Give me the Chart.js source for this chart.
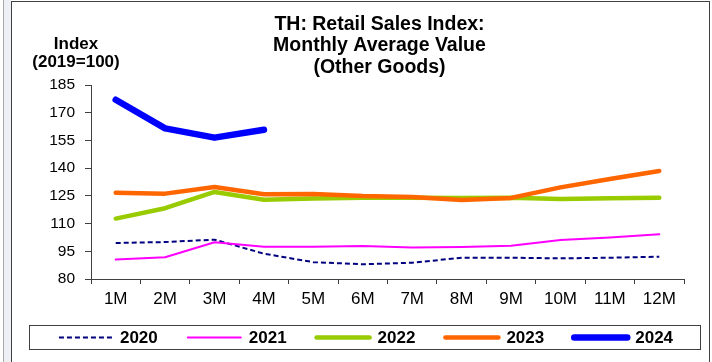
<!DOCTYPE html>
<html>
<head>
<meta charset="utf-8">
<title>TH: Retail Sales Index</title>
<script src="https://cdn.jsdelivr.net/npm/chart.js@4"></script>
<style>
  html, body { margin: 0; padding: 0; background: #fff; }
  #wrap { position: relative; width: 712px; height: 362px; overflow: hidden; }
  /* window frame around the chart */
  .edge-outer { position: absolute; left: 3px; top: 0; width: 1px; height: 362px; background: #a8a8a8; }
  .edge-band { position: absolute; left: 4px; top: 0; width: 7px; height: 362px; background: #eef0f6; }
  .edge-frame { position: absolute; left: 11px; top: 1px; width: 697px; height: 370px; border: 1px solid #404040; border-bottom: none; }
  canvas { position: absolute; left: 0; top: 0; }
</style>
</head>
<body>
<div id="wrap">
  <div class="edge-outer"></div>
  <div class="edge-band"></div>
  <div class="edge-frame"></div>
  <canvas id="retailChart" width="712" height="362"></canvas>
</div>
<script>
// Monthly average value, other goods (index, 2019 = 100)
const months = ['1M', '2M', '3M', '4M', '5M', '6M', '7M', '8M', '9M', '10M', '11M', '12M'];
const y2020 = [99.5, 100.0, 101.3, 93.7, 89.1, 88.0, 88.8, 91.5, 91.5, 91.2, 91.5, 92.1];
const y2021 = [90.5, 91.8, 99.9, 97.5, 97.5, 97.9, 97.0, 97.3, 98.0, 101.1, 102.4, 104.2];
const y2022 = [112.7, 118.3, 127.1, 122.9, 123.6, 124.0, 124.0, 123.9, 124.0, 123.3, 123.7, 124.0];
const y2023 = [126.7, 126.2, 129.8, 125.9, 126.0, 124.9, 124.4, 122.8, 123.9, 129.6, 134.1, 138.5];
const y2024 = [177.0, 161.5, 156.5, 160.8];
const yTicks = [80, 95, 110, 125, 140, 155, 170, 185];

const titleLines = ['TH: Retail Sales Index:', 'Monthly Average Value', '(Other Goods)'];
const unitLines = ['Index', '(2019=100)'];

const FONT = '"Liberation Sans", Arial, sans-serif';

// Title and the unit caption over the y axis
const headerText = {
    id: 'headerText',
    afterDraw(chart) {
        const {ctx, chartArea} = chart;
        ctx.save();
        ctx.fillStyle = '#000';
        ctx.textAlign = 'center';
        ctx.textBaseline = 'alphabetic';
        ctx.font = 'bold 19.5px ' + FONT;
        const cx = (chartArea.left + chartArea.right) / 2 - 8;
        titleLines.forEach((t, i) => ctx.fillText(t, cx, 30 + i * 21.3));
        ctx.font = 'bold 17px ' + FONT;
        unitLines.forEach((t, i) => ctx.fillText(t, chartArea.left - 15, chartArea.top - 36 + i * 18.2));
        ctx.restore();
    }
};

// Boxed legend row under the x axis
const boxedLegend = {
    id: 'boxedLegend',
    afterDraw(chart) {
        const {ctx, chartArea} = chart;
        const sets = chart.data.datasets;
        const lineLen = 53, gap = 8, pad = 30;
        ctx.save();
        ctx.font = 'bold 17px ' + FONT;
        const widths = sets.map(ds => lineLen + gap + ctx.measureText(ds.label).width);
        const total = widths.reduce((a, b) => a + b, 0) + pad * (sets.length - 1);

        const boxTop = chartArea.bottom + 46;
        const boxLeft = chartArea.left - 62;
        const boxRight = chartArea.right + 16;
        ctx.strokeStyle = '#404040';
        ctx.lineWidth = 1;
        ctx.strokeRect(Math.round(boxLeft) + 0.5, Math.round(boxTop) + 0.5, Math.round(boxRight - boxLeft), 24);

        const midY = boxTop + 12.5;
        let x = (chartArea.left + chartArea.right) / 2 - 21.5 - total / 2;
        sets.forEach((ds, i) => {
            ctx.beginPath();
            ctx.strokeStyle = ds.borderColor;
            ctx.lineWidth = ds.borderWidth;
            ctx.lineCap = ds.borderCapStyle || 'butt';
            ctx.setLineDash(ds.borderDash || []);
            ctx.moveTo(x, midY);
            ctx.lineTo(x + lineLen, midY);
            ctx.stroke();
            ctx.setLineDash([]);
            ctx.fillStyle = '#000';
            ctx.textAlign = 'left';
            ctx.textBaseline = 'middle';
            ctx.fillText(ds.label, x + lineLen + gap, midY + 1);
            x += widths[i] + pad;
        });
        ctx.restore();
    }
};

const axisColor = '#404040';

new Chart(document.getElementById('retailChart'), {
    type: 'line',
    data: {
        labels: months,
        datasets: [
            {
                label: '2020',
                data: y2020,
                borderColor: '#000080',
                borderWidth: 2,
                borderDash: [5, 3],
                order: 5
            },
            {
                label: '2021',
                data: y2021,
                borderColor: '#ff00ff',
                borderWidth: 2,
                borderCapStyle: 'round',
                order: 4
            },
            {
                label: '2022',
                data: y2022,
                borderColor: '#99cc00',
                borderWidth: 4.5,
                borderCapStyle: 'round',
                order: 3
            },
            {
                label: '2023',
                data: y2023,
                borderColor: '#ff6600',
                borderWidth: 4.5,
                borderCapStyle: 'round',
                order: 2
            },
            {
                label: '2024',
                data: y2024,
                borderColor: '#0000ff',
                borderWidth: 6.5,
                borderCapStyle: 'round',
                order: 1
            }
        ]
    },
    options: {
        responsive: false,
        animation: false,
        layout: {
            padding: { top: 85, right: 28, bottom: 53, left: 12 }
        },
        elements: {
            point: { radius: 0, hoverRadius: 0 },
            line: { tension: 0, borderJoinStyle: 'round', fill: false }
        },
        scales: {
            x: {
                offset: true,
                grid: {
                    offset: true,
                    drawOnChartArea: false,
                    drawTicks: true,
                    tickLength: 5,
                    color: axisColor
                },
                border: { display: true, color: axisColor, width: 1 },
                ticks: {
                    color: '#000',
                    padding: 5,
                    maxRotation: 0,
                    font: { family: FONT, size: 17 }
                },
                afterFit(scale) { scale.height = 30; }
            },
            y: {
                min: 80,
                max: 185,
                afterBuildTicks(scale) {
                    scale.ticks = yTicks.map(v => ({ value: v }));
                },
                grid: {
                    drawOnChartArea: false,
                    drawTicks: true,
                    tickLength: 6,
                    color: axisColor
                },
                border: { display: true, color: axisColor, width: 1 },
                ticks: {
                    color: '#000',
                    padding: 10,
                    font: { family: FONT, size: 15.5 }
                },
                afterFit(scale) { scale.width = 79; }
            }
        },
        plugins: {
            legend: { display: false },
            title: { display: false },
            tooltip: { enabled: false }
        }
    },
    plugins: [headerText, boxedLegend]
});
</script>
</body>
</html>
